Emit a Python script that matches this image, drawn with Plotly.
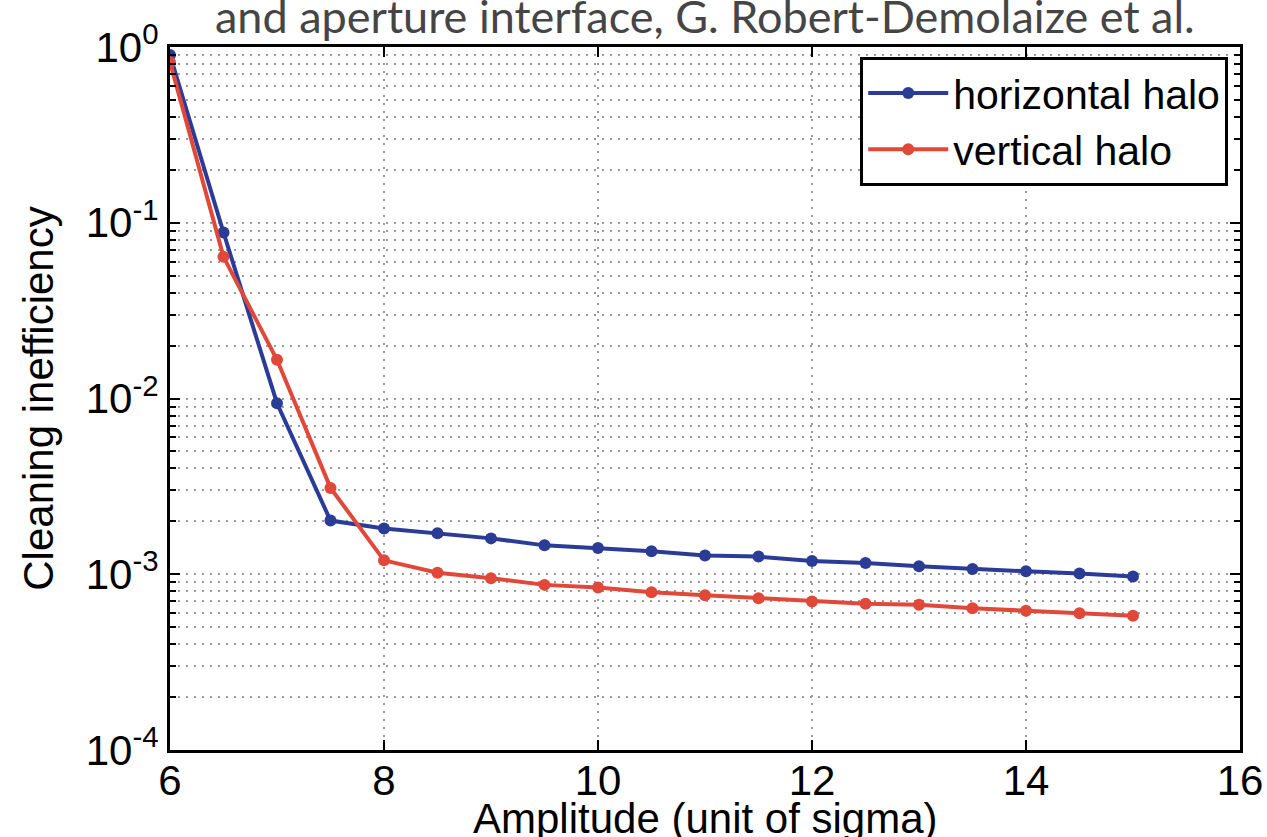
import plotly.graph_objects as go

amplitude = [6, 6.5, 7, 7.5, 8, 8.5, 9, 9.5, 10, 10.5, 11, 11.5, 12, 12.5, 13, 13.5, 14, 14.5, 15]
horizontal_halo = [0.90, 0.088, 0.0094, 0.00202, 0.00182, 0.00171, 0.00160, 0.00146, 0.00141,
                   0.00135, 0.00128, 0.00126, 0.00119, 0.00116, 0.00111, 0.00107, 0.00104,
                   0.00101, 0.00097]
vertical_halo = [0.82, 0.064, 0.0166, 0.0031, 0.00120, 0.00102, 0.00095, 0.00087, 0.00084,
                 0.00079, 0.00076, 0.00073, 0.00070, 0.00068, 0.00067, 0.00064, 0.00062,
                 0.00060, 0.00058]

x_ticks = [6, 8, 10, 12, 14, 16]
y_ticks = [1e-4, 1e-3, 1e-2, 1e-1, 1]
y_ticktext = ["10<sup>-4</sup>", "10<sup>-3</sup>", "10<sup>-2</sup>", "10<sup>-1</sup>", "10<sup>0</sup>"]
y_minor = [m * 10 ** e for e in range(-4, 0) for m in range(2, 10)]

title_text = "and aperture interface, G. Robert-Demolaize et al."
x_title = "Amplitude (unit of sigma)"
y_title = "Cleaning inefficiency"
blue = "#2b3c96"
red = "#e0483a"

fig = go.Figure()
fig.add_trace(go.Scatter(x=amplitude, y=horizontal_halo, mode="lines+markers", name="horizontal halo",
                         line=dict(color=blue, width=4), marker=dict(color=blue, size=12)))
fig.add_trace(go.Scatter(x=amplitude, y=vertical_halo, mode="lines+markers", name="vertical halo",
                         line=dict(color=red, width=4), marker=dict(color=red, size=12)))

tickfont = dict(family="Liberation Sans, Arial, sans-serif", size=42, color="black")
grid_dash = "2px,6px"

fig.update_layout(
    width=1267, height=837,
    margin=dict(l=170, r=27, t=47, b=87, autoexpand=False),
    paper_bgcolor="white", plot_bgcolor="white",
    font=tickfont,
    showlegend=True,
    legend=dict(x=0.989, y=0.986, xanchor="right", yanchor="top",
                bgcolor="white", bordercolor="black", borderwidth=3,
                font=dict(family="Liberation Sans, Arial, sans-serif", size=41, color="black"),
                itemwidth=80, tracegroupgap=0),
    xaxis=dict(range=[6, 16], tickvals=x_ticks, ticktext=[str(v) for v in x_ticks],
               automargin=False, ticklabelstandoff=-8,
               showline=True, linecolor="black", linewidth=3, mirror="ticks",
               ticks="inside", ticklen=10, tickwidth=2, tickcolor="black",
               showgrid=True, gridcolor="#999999", gridwidth=1.5, griddash=grid_dash,
               zeroline=False, tickfont=tickfont),
    yaxis=dict(type="log", range=[-4, 0], tickvals=y_ticks, ticktext=y_ticktext,
               automargin=False,
               showline=True, linecolor="black", linewidth=3, mirror="ticks",
               ticks="inside", ticklen=10, tickwidth=2, tickcolor="black",
               showgrid=True, gridcolor="#999999", gridwidth=1.5, griddash=grid_dash,
               zeroline=False, tickfont=tickfont,
               minor=dict(tickvals=y_minor, ticks="inside", ticklen=6, tickwidth=1.5,
                          tickcolor="black", showgrid=True, gridcolor="#999999",
                          gridwidth=1.5, griddash=grid_dash),
               title=dict(text=y_title, font=tickfont, standoff=20)),
    annotations=[
        dict(text=title_text, xref="paper", yref="paper", x=0.5, y=1,
             xanchor="center", yanchor="bottom", yshift=2, showarrow=False,
             font=dict(family="Lato, sans-serif", size=45, color="#454545")),
        dict(text=x_title, xref="paper", yref="paper", x=0.5, y=0,
             xanchor="center", yanchor="top", yshift=-43, showarrow=False,
             font=tickfont),
    ],
)

fig.write_html("out.html")
